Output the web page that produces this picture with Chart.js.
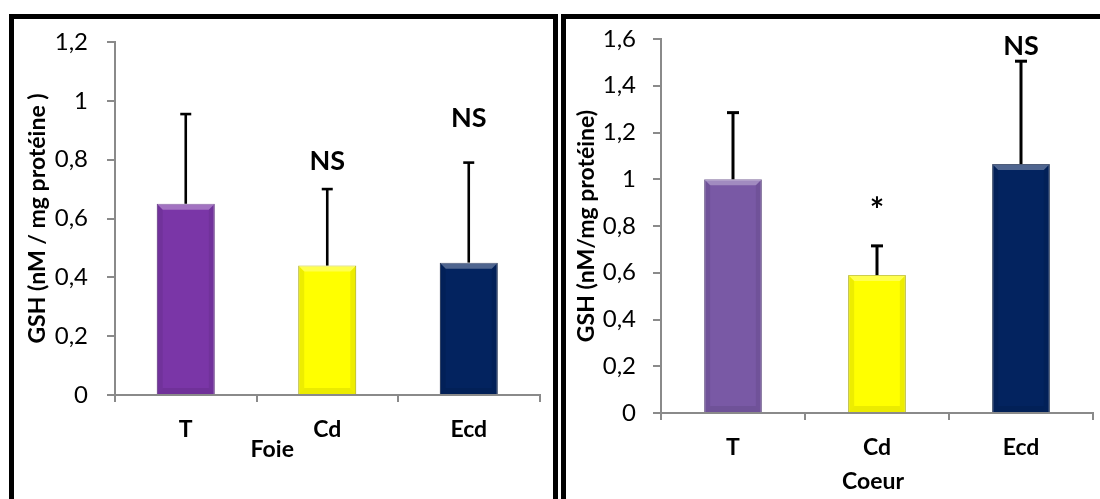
<!DOCTYPE html>
<html><head><meta charset="utf-8">
<script src="https://cdn.jsdelivr.net/npm/chart.js@4.4.0/dist/chart.umd.min.js"></script>
<style>
html,body{margin:0;padding:0;background:#fff;width:1100px;height:499px;overflow:hidden;position:relative;}
.panel{position:absolute;border:5px solid #000;box-sizing:border-box;}
#p1{left:9px;top:14px;width:549px;height:520px;}
#p2{left:561px;top:14px;width:560px;height:520px;}
canvas{position:absolute;}
#c1{left:14px;top:19px;width:539px;height:480px;}
#c2{left:566px;top:19px;width:534px;height:480px;}
</style></head>
<body>
<div class="panel" id="p1"></div>
<div class="panel" id="p2"></div>
<canvas id="c1" width="539" height="480"></canvas>
<canvas id="c2" width="534" height="480"></canvas>
<script>
const categories = ['T', 'Cd', 'Ecd'];

const foieValues = [0.65, 0.44, 0.45];
const foieErrors = [0.305, 0.26, 0.34];
const foieSig = ['', 'NS', 'NS'];
const foieSigAt = [null, 0.795, 0.94];
const foieTicks = ['0', '0,2', '0,4', '0,6', '0,8', '1', '1,2'];

const coeurValues = [1.0, 0.59, 1.065];
const coeurErrors = [0.285, 0.125, 0.44];
const coeurSig = ['', '*', 'NS'];
const coeurSigAt = [null, 0.865, 1.569];
const coeurTicks = ['0', '0,2', '0,4', '0,6', '0,8', '1', '1,2', '1,4', '1,6'];

const FONT = 'Lato';

const bevel = {
  id: 'bevel',
  afterDatasetsDraw(chart) {
    const ctx = chart.ctx;
    const meta = chart.getDatasetMeta(0);
    meta.data.forEach(b => {
      const l = b.x - b.width / 2, r = b.x + b.width / 2, t = b.y, bt = b.base, s = 6;
      ctx.save();
      ctx.fillStyle = 'rgba(255,255,255,0.30)';
      ctx.beginPath(); ctx.moveTo(l, t); ctx.lineTo(r, t); ctx.lineTo(r - s, t + s); ctx.lineTo(l + s, t + s); ctx.closePath(); ctx.fill();
      ctx.fillStyle = 'rgba(0,0,0,0.08)';
      ctx.beginPath(); ctx.moveTo(l, bt); ctx.lineTo(r, bt); ctx.lineTo(r - s, bt - s); ctx.lineTo(l + s, bt - s); ctx.closePath(); ctx.fill();
      ctx.fillStyle = 'rgba(0,0,0,0.07)';
      ctx.beginPath(); ctx.moveTo(l, t); ctx.lineTo(l + s, t + s); ctx.lineTo(l + s, bt - s); ctx.lineTo(l, bt); ctx.closePath(); ctx.fill();
      ctx.beginPath(); ctx.moveTo(r, t); ctx.lineTo(r - s, t + s); ctx.lineTo(r - s, bt - s); ctx.lineTo(r, bt); ctx.closePath(); ctx.fill();
      ctx.restore();
    });
  }
};

const errbars = {
  id: 'errbars',
  afterDatasetsDraw(chart, args, opts) {
    const ctx = chart.ctx;
    const meta = chart.getDatasetMeta(0);
    const ys = chart.scales.y;
    const vals = chart.data.datasets[0].data;
    meta.data.forEach((b, i) => {
      const top = ys.getPixelForValue(vals[i] + opts.errors[i]);
      ctx.save();
      ctx.strokeStyle = '#000';
      ctx.lineWidth = opts.width;
      ctx.beginPath(); ctx.moveTo(b.x, b.y); ctx.lineTo(b.x, top); ctx.stroke();
      ctx.beginPath(); ctx.moveTo(b.x - opts.cap / 2, top); ctx.lineTo(b.x + opts.cap / 2, top); ctx.stroke();
      ctx.restore();
    });
  }
};

const sigLabels = {
  id: 'sigLabels',
  afterDraw(chart, args, opts) {
    const ctx = chart.ctx;
    const meta = chart.getDatasetMeta(0);
    const ys = chart.scales.y;
    ctx.save();
    ctx.fillStyle = '#000';
    ctx.textAlign = 'center';
    ctx.textBaseline = 'middle';
    meta.data.forEach((b, i) => {
      const txt = opts.labels[i];
      if (!txt) return;
      ctx.font = (txt === '*' ? 'bold 34px ' : 'bold 27px ') + FONT;
      ctx.fillText(txt, b.x, ys.getPixelForValue(opts.at[i]));
    });
    const ca = chart.chartArea;
    ctx.font = 'bold 23px ' + FONT;
    ctx.fillText(opts.xtitle, (ca.left + ca.right) / 2 + opts.dx, ca.bottom + opts.dy);
    ctx.restore();
  }
};

function makeChart(id, cfg) {
  return new Chart(document.getElementById(id), {
    type: 'bar',
    data: {
      labels: categories,
      datasets: [{
        data: cfg.values,
        backgroundColor: cfg.colors,
        borderColor: cfg.borders,
        borderWidth: 1,
        categoryPercentage: 1,
        barPercentage: cfg.barPct
      }]
    },
    options: {
      responsive: false,
      animation: false,
      devicePixelRatio: 1,
      layout: { padding: { left: 0, top: cfg.padTop, right: cfg.padRight, bottom: 0 } },
      plugins: {
        legend: { display: false },
        tooltip: { enabled: false },
        errbars: { errors: cfg.errors, width: cfg.errW, cap: cfg.cap },
        sigLabels: { labels: cfg.sig, at: cfg.sigAt, xtitle: cfg.xtitle, dx: cfg.xdx, dy: cfg.xdy }
      },
      scales: {
        x: {
          grid: { display: true, drawOnChartArea: false, drawTicks: true, tickLength: 7, color: '#8a8a8a', lineWidth: 2, offset: true },
          border: { display: true, color: '#8a8a8a', width: 2 },
          ticks: { font: { family: FONT, size: 23, weight: 'bold' }, color: '#000', padding: cfg.xPad },
          afterFit(s) { s.height = cfg.xH; s.paddingLeft = 0; s.paddingRight = 0; }
        },
        y: {
          min: 0, max: cfg.max,
          ticks: { stepSize: 0.2, callback: (v, i) => cfg.ticks[i], font: { family: FONT, size: 24 }, color: '#000', padding: cfg.yPad },
          grid: { display: true, drawOnChartArea: false, drawTicks: true, tickLength: 8, color: '#8a8a8a', lineWidth: 2 },
          border: { display: true, color: '#8a8a8a', width: 2 },
          title: { display: true, text: cfg.ytitle, font: { family: FONT, size: 23, weight: 'bold' }, color: '#000', padding: { top: cfg.titlePad, bottom: 0 } },
          afterFit(s) { s.width = cfg.yW; s.paddingTop = 0; s.paddingBottom = 0; }
        }
      }
    },
    plugins: [bevel, errbars, sigLabels]
  });
}

makeChart('c1', {
  values: foieValues, errors: foieErrors, sig: foieSig, sigAt: foieSigAt, ticks: foieTicks,
  colors: ['#7A36A7', '#FFFF00', '#03235F'], borders: ['#5E2A82', '#B8B800', '#021640'],
  barPct: 0.41, max: 1.2, padTop: 23, padRight: 13.5, xH: 104, yW: 101, xPad: 14, yPad: 19,
  titlePad: 10, ytitle: 'GSH (nM / mg protéine )', xtitle: 'Foie', xdx: -55, xdy: 55,
  errW: 2.6, cap: 11
});

makeChart('c2', {
  values: coeurValues, errors: coeurErrors, sig: coeurSig, sigAt: coeurSigAt, ticks: coeurTicks,
  colors: ['#7959A5', '#FFFF00', '#03235F'], borders: ['#5C4282', '#B8B800', '#021640'],
  barPct: 0.40, max: 1.6, padTop: 20, padRight: 7, xH: 86, yW: 95, xPad: 14, yPad: 17,
  titlePad: 7, ytitle: 'GSH (nM/mg protéine)', xtitle: 'Coeur', xdx: -4, xdy: 69,
  errW: 3, cap: 12
});
</script>
</body></html>
